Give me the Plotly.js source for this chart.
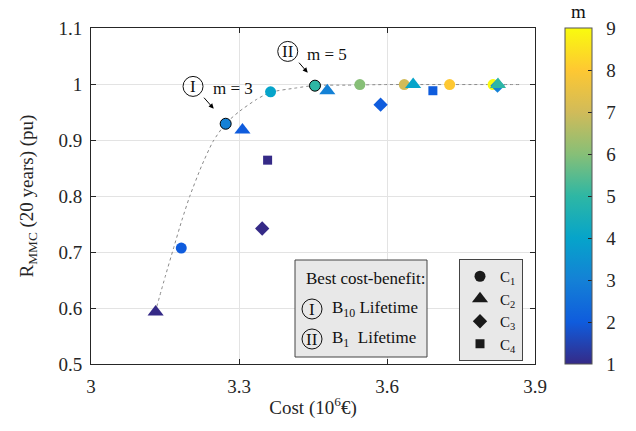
<!DOCTYPE html>
<html><head><meta charset="utf-8">
<script src="https://cdn.plot.ly/plotly-3.0.1.min.js"></script>
<style>html,body{margin:0;padding:0;background:#fff}</style>
</head><body><div id="chart" style="width:636px;height:431px"></div>
<script>
// ---- data ----
const c1Cost = [3.183, 3.273, 3.364, 3.454, 3.545, 3.635, 3.727, 3.815];
const c1R    = [0.707, 0.929, 0.986, 0.997, 0.999, 0.999, 0.999, 0.999];
const c1M    = [2, 3, 4, 5, 6, 7, 8, 9];
const c1Best = [0, 1, 0, 1, 0, 0, 0, 0];

const c2Cost = [3.131, 3.307, 3.479, 3.653, 3.825];
const c2R    = [0.593, 0.918, 0.988, 0.999, 0.999];
const c2M    = [1, 2, 3, 4, 5];

const c3Cost = [3.347, 3.587, 3.824];
const c3R    = [0.742, 0.963, 0.997];
const c3M    = [1, 2, 3];

const c4Cost = [3.358, 3.693];
const c4R    = [0.864, 0.988];
const c4M    = [1, 2];

// dotted trend curve
const fitCost = [3.1332, 3.1504, 3.1676, 3.1839, 3.2001, 3.2238, 3.2473, 3.2731, 3.3015, 3.3353, 3.3637, 3.4164, 3.4535, 3.520, 3.600, 3.700, 3.800, 3.869];
const fitR    = [0.6023, 0.6559, 0.7077, 0.7559, 0.7993, 0.8529, 0.8973, 0.9295, 0.9516, 0.9723, 0.9852, 0.9930, 0.9975, 0.998, 0.999, 0.999, 0.999, 0.999];

const configNames = ['C<sub>1</sub>', 'C<sub>2</sub>', 'C<sub>3</sub>', 'C<sub>4</sub>'];
const xTicks = [3, 3.3, 3.6, 3.9];
const yTicks = [0.5, 0.6, 0.7, 0.8, 0.9, 1, 1.1];
const mTicks = [1, 2, 3, 4, 5, 6, 7, 8, 9];

// ---- styling ----
const FONT = 'Liberation Serif, Times New Roman, serif';
const INK = '#262626';
const parula = [[0,'#352a87'],[0.125,'#0f5cdd'],[0.25,'#1481d6'],[0.375,'#06a4ca'],
  [0.5,'#2eb7a4'],[0.625,'#87bf77'],[0.75,'#d1bb59'],[0.875,'#fec832'],[1,'#f9fb0e']];
const NB = '\u00a0';

function markerSet(m, symbol, size, extra) {
  return Object.assign({symbol: symbol, size: size, color: m, colorscale: parula,
    cmin: 1, cmax: 9, line: {width: 0}}, extra || {});
}

const traces = [
  {x: fitCost, y: fitR, mode: 'lines', line: {color: '#8a8a8a', width: 1, dash: 'dot', shape: 'spline', smoothing: 0.6},
   showlegend: false, hoverinfo: 'skip'},
  {x: c1Cost, y: c1R, mode: 'markers', showlegend: false,
   marker: markerSet(c1M, 'circle', 11, {line: {width: c1Best, color: '#000'},
     showscale: true,
     colorbar: {x: (565-91)/444, xanchor: 'left', xpad: 0, ypad: 0, y: 0.5, yanchor: 'middle',
       len: 1, lenmode: 'fraction', thickness: 27, thicknessmode: 'pixels',
       outlinewidth: 1, outlinecolor: '#555', ticks: 'inside', ticklen: 4, tickcolor: INK,
       tickvals: mTicks, ticktext: mTicks.map(v => NB + NB + String(v)),
       tickfont: {family: FONT, size: 19, color: INK}}})},
  {x: c4Cost, y: c4R, mode: 'markers', showlegend: false, marker: markerSet(c4M, 'square', 9)},
  {x: c3Cost, y: c3R, mode: 'markers', showlegend: false, marker: markerSet(c3M, 'diamond', 11)},
  {x: c2Cost, y: c2R, mode: 'markers', showlegend: false, marker: markerSet(c2M, 'triangle-up', 14)},
];
// black legend entries for the four configurations
const legendSymbols = ['circle', 'triangle-up', 'diamond', 'square'];
const legendSizes = [11, 14, 11, 9];
configNames.forEach((n, i) => {
  traces.push({x: [null], y: [null], mode: 'markers', name: n,
    marker: {symbol: legendSymbols[i], size: legendSizes[i], color: '#1a1a1a'}});
});

function circ(xref, yref, x, y, r) {
  return {type: 'circle', xref: xref, yref: yref, xsizemode: 'pixel', ysizemode: 'pixel',
    xanchor: x, yanchor: y, x0: -r, x1: r, y0: -r, y1: r,
    line: {color: '#111', width: 1}, fillcolor: 'rgba(255,255,255,0)'};
}
function px2paperX(px) { return (px - 91) / 444; }
function px2paperY(py) { return (364 - py) / 336; }

const ann = [];
const txt = (text, xref, yref, x, y, size, anchor) => ({text: text, xref: xref, yref: yref, x: x, y: y,
  showarrow: false, xanchor: anchor || 'center', yanchor: 'middle',
  font: {family: FONT, size: size || 16, color: '#111'}});

// colorbar title
ann.push(txt('m', 'paper', 'paper', px2paperX(578), px2paperY(12), 19));
// callouts on the curve
ann.push(txt('I', 'x', 'y', 3.2068, 0.9957, 17));
ann.push(txt('m = 3', 'x', 'y', 3.2873, 0.9916, 17));
ann.push(txt('II', 'x', 'y', 3.3988, 1.0582, 17));
ann.push(txt('m = 5', 'x', 'y', 3.4778, 1.0523, 17));
ann.push({text: '', x: 3.2487, y: 0.9559, xref: 'x', yref: 'y', ax: -11, ay: -12.5,
  showarrow: true, arrowhead: 2, arrowsize: 1, arrowwidth: 1, arrowcolor: '#000', standoff: 0});
ann.push({text: '', x: 3.4393, y: 1.0202, xref: 'x', yref: 'y', ax: -10, ay: -11.5,
  showarrow: true, arrowhead: 2, arrowsize: 1, arrowwidth: 1, arrowcolor: '#000', standoff: 0});

// best cost-benefit box
ann.push(txt('Best cost-benefit:', 'paper', 'paper', px2paperX(304), px2paperY(278), 17, 'left'));
ann.push(txt('I', 'paper', 'paper', px2paperX(312), px2paperY(309), 17));
ann.push(txt('B<sub>10</sub> Lifetime', 'paper', 'paper', px2paperX(330), px2paperY(309), 17, 'left'));
ann.push(txt('II', 'paper', 'paper', px2paperX(312), px2paperY(339), 17));
ann.push(txt('B<sub>1</sub>' + NB + ' Lifetime', 'paper', 'paper', px2paperX(330), px2paperY(339), 17, 'left'));

const shapes = [
  {type: 'rect', xref: 'paper', yref: 'paper', x0: px2paperX(295), x1: px2paperX(427),
   y0: px2paperY(357), y1: px2paperY(260), fillcolor: '#e8e8e8', line: {color: '#444', width: 1}},
  circ('x', 'y', 3.2068, 0.9957, 10),
  circ('x', 'y', 3.3988, 1.0582, 10),
  circ('paper', 'paper', px2paperX(312), px2paperY(309), 10),
  circ('paper', 'paper', px2paperX(312), px2paperY(339), 10),
];

const axisCommon = {showline: true, linecolor: INK, linewidth: 1, mirror: 'ticks', ticks: 'inside',
  ticklen: 5, tickcolor: INK, showgrid: true, gridcolor: '#e3e3e3', gridwidth: 1, zeroline: false,
  tickfont: {family: FONT, size: 19, color: INK}};

const layout = {
  width: 636, height: 431, margin: {l: 91, r: 101, t: 28, b: 67},
  paper_bgcolor: '#fff', plot_bgcolor: '#fff',
  font: {family: FONT, color: INK},
  xaxis: Object.assign({}, axisCommon, {range: [3, 3.9], tickvals: xTicks, ticktext: xTicks.map(String),
    ticklabelstandoff: 5,
    title: {text: 'Cost (10<sup>6</sup>€)', font: {family: FONT, size: 19, color: INK}, standoff: 4}}),
  yaxis: Object.assign({}, axisCommon, {range: [0.5, 1.1], tickvals: yTicks, ticktext: yTicks.map(String),
    ticklabelstandoff: 4,
    title: {text: 'R<sub>MMC</sub> (20 years) (pu)', font: {family: FONT, size: 19, color: INK}, standoff: 19}}),
  showlegend: true,
  legend: {x: px2paperX(459), y: px2paperY(259), xanchor: 'left', yanchor: 'top',
    bgcolor: '#e8e8e8', bordercolor: '#444', borderwidth: 1,
    font: {family: FONT, size: 15, color: '#111'}, traceorder: 'normal', itemwidth: 30},
  shapes: shapes, annotations: ann,
};
Plotly.newPlot('chart', traces, layout, {displayModeBar: false, staticPlot: true});
</script></body></html>
